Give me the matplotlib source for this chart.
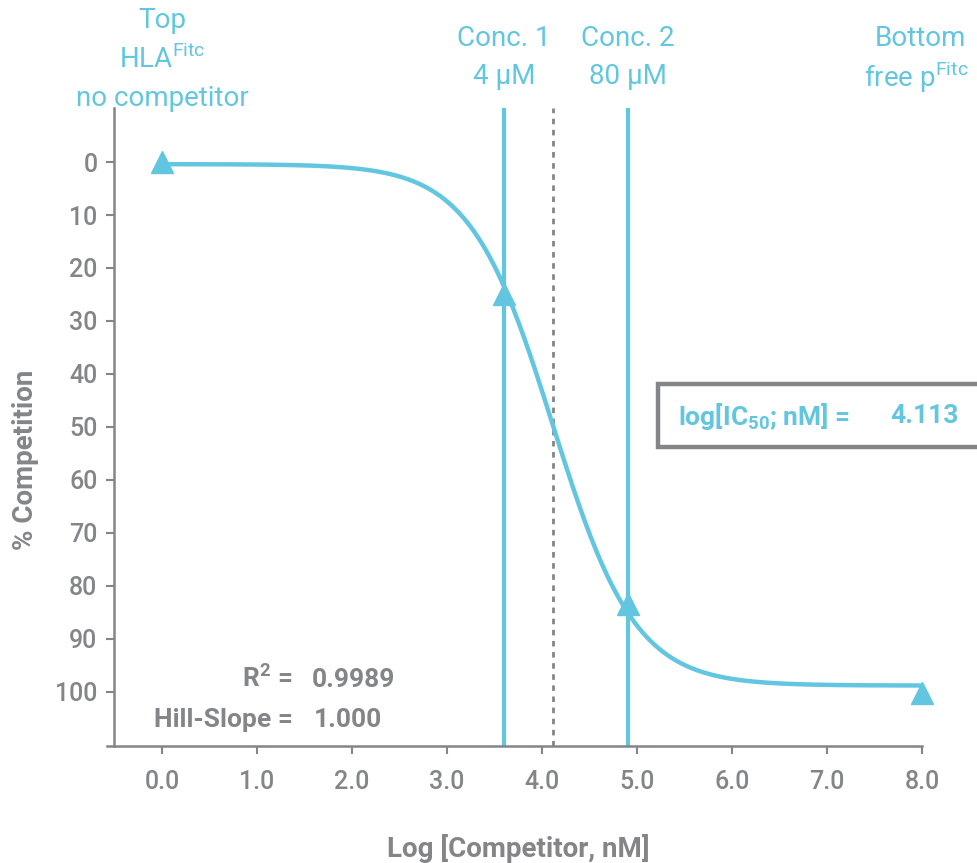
import numpy as np
import matplotlib
matplotlib.use("Agg")
import matplotlib.pyplot as plt
from matplotlib.lines import Line2D

plt.rcParams['font.family'] = ['Roboto', 'DejaVu Sans']
plt.rcParams['mathtext.fontset'] = 'custom'
plt.rcParams['mathtext.rm'] = 'Roboto'
plt.rcParams['mathtext.bf'] = 'Roboto:bold'

CYAN = '#62C6E0'
GRAY = '#838589'

# Measured points (log concentration, % competition)
point_x = [0.0, 3.602, 4.903, 8.0]
point_y = [0.0, 25.0, 83.5, 100.2]

# Fitted four-parameter logistic shown on the chart
fit_top = 0.4
fit_bottom = 98.8
log_ic50 = 4.113
hill_slope = 1.000
r_squared = "0.9989"

conc_lines_x = [3.602, 4.903]
x_ticks = [0, 1, 2, 3, 4, 5, 6, 7, 8]
x_tick_labels = ["0.0", "1.0", "2.0", "3.0", "4.0", "5.0", "6.0", "7.0", "8.0"]
y_ticks = [0, 10, 20, 30, 40, 50, 60, 70, 80, 90, 100]

fig = plt.figure(figsize=(9.77, 8.63), dpi=100)
ax = fig.add_axes([0.1095, 0.1356, 0.8634, 0.7393])

xs = np.linspace(0, 8, 400)
ys = fit_top + (fit_bottom - fit_top) / (1 + 10 ** (hill_slope * (log_ic50 - xs)))
ax.plot(xs, ys, color=CYAN, lw=3.2, zorder=3, solid_capstyle='round')

for cx in conc_lines_x:
    ax.axvline(cx, color=CYAN, lw=3, zorder=2)
ax.axvline(log_ic50, color=GRAY, lw=2, ls=(0, (2, 2)), zorder=2)

ax.plot(point_x, point_y, ls='none', marker='^', ms=16, color=CYAN, mec=CYAN, zorder=4, clip_on=False)

ax.set_xlim(-0.58, 8.3)
ax.set_ylim(110.2, -10.2)
for s in ['top', 'right']:
    ax.spines[s].set_visible(False)
ax.spines['left'].set_position(('data', -0.505))
ax.spines['bottom'].set_bounds(-0.58, 8.0)
for s in ['left', 'bottom']:
    ax.spines[s].set_color(GRAY)
    ax.spines[s].set_linewidth(1.8)

ax.set_xticks(x_ticks)
ax.set_xticklabels(x_tick_labels)
ax.set_yticks(y_ticks)
ax.tick_params(axis='both', colors=GRAY, labelcolor=GRAY, width=1.5, length=6, labelsize=18)
ax.tick_params(axis='x', pad=11)
ax.tick_params(axis='y', pad=6)
for lab in ax.get_xticklabels() + ax.get_yticklabels():
    lab.set_fontweight('medium')

fig.text(0.026, 1 - 460 / 863, "% Competition", rotation=90, ha='center', va='center',
         color=GRAY, fontsize=20, fontweight='bold')
fig.text(518 / 977, 1 - 848 / 863, "Log [Competitor, nM]", ha='center', va='center',
         color=GRAY, fontsize=20, fontweight='bold')

def ftext(px, py, s, **kw):
    kw.setdefault('ha', 'center')
    kw.setdefault('va', 'center')
    fig.text(px / 977, 1 - py / 863, s, **kw)

tk = dict(color=CYAN, fontsize=20)
ftext(162, 20, "Top", **tk)
ftext(162, 59, r"HLA$^{\mathrm{Fitc}}$", **tk)
ftext(162, 99, "no competitor", **tk)
ftext(504, 39, "Conc. 1", **tk)
ftext(504, 76, "4 µM", **tk)
ftext(628, 39, "Conc. 2", **tk)
ftext(628, 76, "80 µM", **tk)
ftext(920, 39, "Bottom", **tk)
ftext(916, 77, r"free p$^{\mathrm{Fitc}}$", **tk)

# IC50 box (open on the right, running off the figure edge)
bx0, bx1 = 658 / 977, 1.02
by0, by1 = 1 - 447 / 863, 1 - 384 / 863
fig.add_artist(Line2D([bx1, bx0, bx0, bx1], [by1, by1, by0, by0], transform=fig.transFigure,
                      color=GRAY, lw=3.2, solid_joinstyle='miter'))
ftext(678, 416, r"log[IC$_{\mathbf{50}}$; nM] =", ha='left', color=CYAN, fontsize=19, fontweight='bold')
ftext(890, 416, f"{log_ic50:.3f}", ha='left', color=CYAN, fontsize=19, fontweight='bold')

gk = dict(color=GRAY, fontsize=19, fontweight='bold')
ftext(292, 678, r"R$^{\mathbf{2}}$ =", ha='right', **gk)
ftext(312, 680, r_squared, ha='left', **gk)
ftext(293, 720, "Hill-Slope =", ha='right', **gk)
ftext(314, 720, f"{hill_slope:.3f}", ha='left', **gk)

fig.savefig("out.png", dpi=100)
